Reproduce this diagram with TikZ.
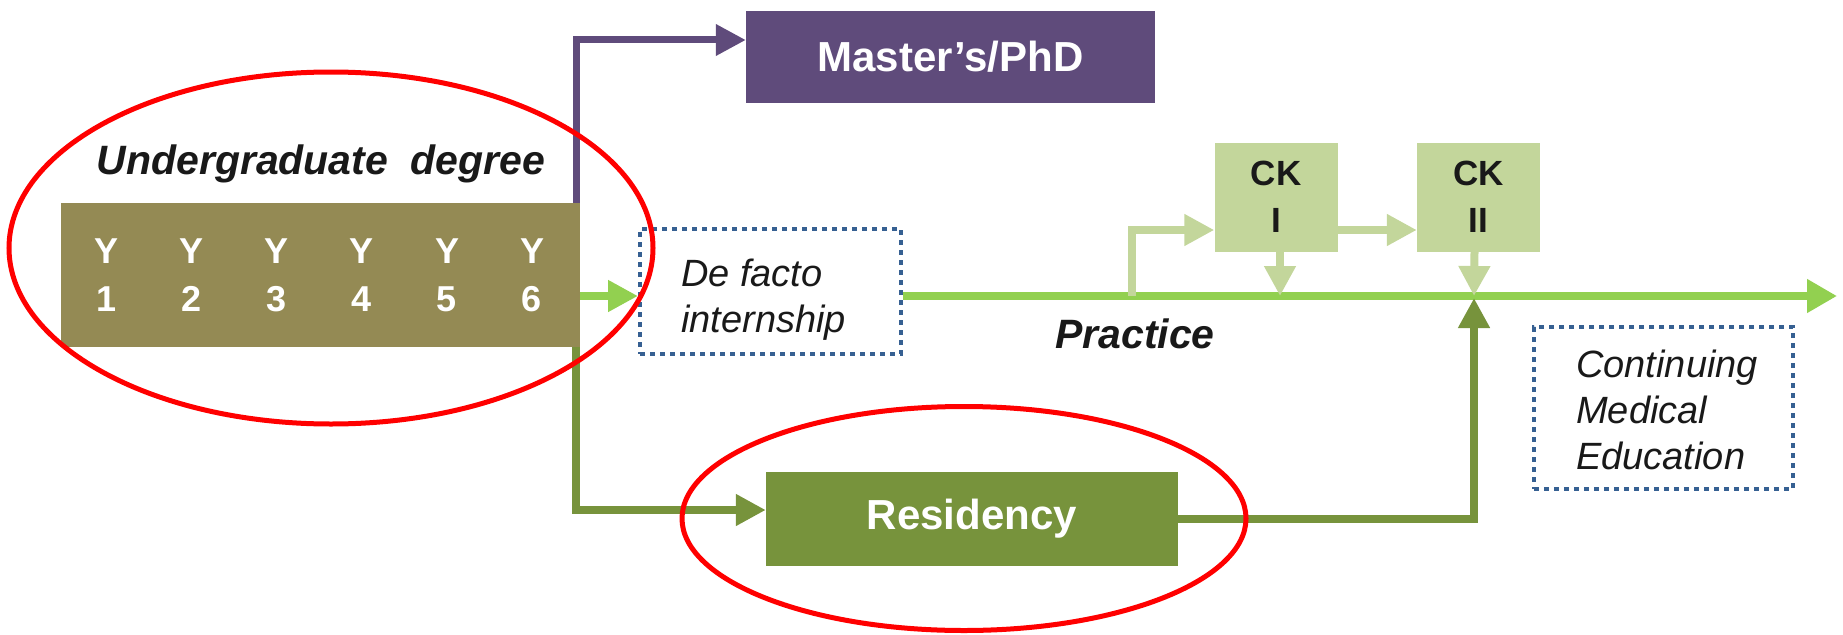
\documentclass[tikz,border=0pt]{standalone}
\usepackage{fontspec}
\setmainfont{Liberation Sans}
\usetikzlibrary{arrows.meta}
\definecolor{purp}{RGB}{95,75,123}
\definecolor{tanbox}{RGB}{148,138,84}
\definecolor{resgreen}{RGB}{119,147,60}
\definecolor{ckgreen}{RGB}{195,214,155}
\definecolor{maingreen}{RGB}{146,208,80}
\definecolor{dotblue}{RGB}{54,96,146}
\definecolor{ellred}{RGB}{255,0,0}
\begin{document}
\begin{tikzpicture}[x=1pt,y=-1pt,
  fillbox/.style={rectangle, inner sep=0pt, text=white, font=\fontsize{42}{50}\selectfont\bfseries},
  ylabel/.style={inner sep=0pt, align=center, text=white, font=\fontsize{36}{48}\selectfont\bfseries},
  ckbox/.style={rectangle, inner sep=0pt, fill=ckgreen, minimum width=123pt, minimum height=109pt, align=center, text=black!90, font=\fontsize{35}{47}\selectfont\bfseries},
  dotbox/.style={rectangle, inner sep=0pt, draw=dotblue, line width=4pt, dash pattern=on 5pt off 5pt},
  itext/.style={inner sep=0pt, align=left, text=black!90, font=\fontsize{38}{46}\selectfont\itshape},
  bitext/.style={inner sep=0pt, text=black!90, font=\fontsize{41}{48}\selectfont\bfseries\itshape},
  tip/.style={-{Triangle[length=30pt,width=30pt]}},
  purpline/.style={draw=purp, line width=7pt, tip},
  oliveline/.style={draw=resgreen, line width=8pt},
  mainline/.style={draw=maingreen, line width=8pt},
  lightline/.style={draw=ckgreen, line width=8pt},
  redell/.style={draw=ellred, line width=5pt}
]
\useasboundingbox (0,0) rectangle (1843,634);

% boxes
\node[fillbox, fill=tanbox, minimum width=519pt, minimum height=144pt] (ug) at (320.5,275) {};
\node[fillbox, fill=purp, minimum width=409pt, minimum height=91pt] (master) at (950.5,57) {Master’s/PhD};
\node[fillbox, fill=resgreen, minimum width=412pt, minimum height=94pt] (res) at (972,519) {Residency};
\node[ckbox] (ck1) at (1276,197) {CK\\I};
\node[ckbox] (ck2) at (1478.5,197) {CK\\II};
\node[dotbox, minimum width=261pt, minimum height=125pt] (defacto) at (770.5,291.5) {};
\node[dotbox, minimum width=259pt, minimum height=162pt] (cme) at (1663.5,408) {};

% texts
\node[bitext] (ugt) at (321,164) {Undergraduate\ \ degree};
\node[ylabel] (y1) at (107,275) {Y\\1};
\node[ylabel] (y2) at (192,275) {Y\\2};
\node[ylabel] (y3) at (277,275) {Y\\3};
\node[ylabel] (y4) at (362,275) {Y\\4};
\node[ylabel] (y5) at (447,275) {Y\\5};
\node[ylabel] (y6) at (532,275) {Y\\6};
\node[itext, anchor=west] (dft) at (681,300) {De facto\\internship};
\node[itext, anchor=west] (cmet) at (1576,410) {Continuing\\Medical\\Education};
\node[bitext] (prac) at (1135,334) {Practice};

% connectors
\coordinate (mend) at (1837,296);
\coordinate (br) at (1132,296);
\coordinate (j2) at (1474,296);
\draw[mainline, -{Triangle[length=30pt,width=32pt]}] ([yshift=-4.5pt]defacto.east) -- (mend);
\draw[mainline, tip] ([yshift=-21pt]ug.east) -- ([yshift=-21pt]ug.east -| defacto.west);
\draw[purpline] ([xshift=-4pt]ug.north east) |- ([yshift=17pt]master.west);
\draw[oliveline, tip] ([xshift=-4pt]ug.south east) |- ([yshift=9pt]res.west);
\draw[lightline, tip] (br) |- ([yshift=-33pt]ck1.west);
\draw[lightline, tip] ([yshift=-33pt]ck1.east) -- ([yshift=-33pt]ck2.west);
\draw[lightline, tip] ([xshift=4pt]ck1.south) -- ([xshift=4pt]ck1.south |- br);
\draw[lightline, tip] ([xshift=-4pt]ck2.south) -- (j2);
\draw[oliveline, tip] (res.east) -| ([yshift=-2pt]j2);

% highlight ellipses
\draw[redell] (331,248) ellipse [x radius=322, y radius=176];
\draw[redell] (964,518.5) ellipse [x radius=282, y radius=112];
\end{tikzpicture}
\end{document}
